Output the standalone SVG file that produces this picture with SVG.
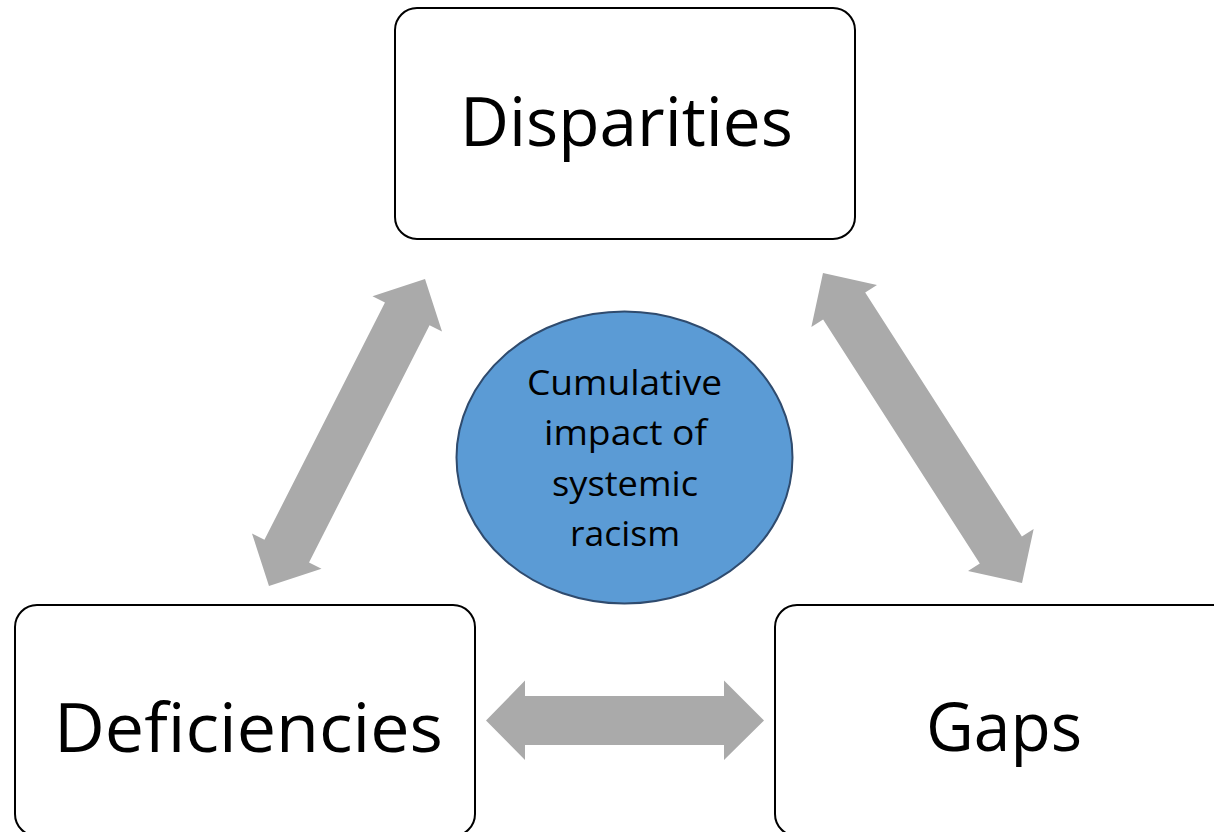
<svg xmlns="http://www.w3.org/2000/svg" width="1214" height="832" viewBox="0 0 1214 832">
<style>
.box{fill:#fff;stroke:#000;stroke-width:2}
.big{font-family:"Open Sans","Liberation Sans",sans-serif;font-size:68px;fill:#000;text-anchor:middle;font-variant-ligatures:none}
.small{font-family:"Open Sans","Liberation Sans",sans-serif;font-size:35px;fill:#000;text-anchor:middle;font-variant-ligatures:none}
.arr{fill:#AAAAAA}
</style>
<rect width="1214" height="832" fill="#fff"/>
<g id="connectors">
<polygon class="arr" transform="translate(347,432.5) rotate(-63.06)" points="-172.2,0 -133,-39 -133,-25 133,-25 133,-39 172.2,0 133,39 133,25 -133,25 -133,39"/>
<polygon class="arr" transform="translate(922.5,428) rotate(57.3)" points="-184.2,0 -145,-39 -145,-25 145,-25 145,-39 184.2,0 145,39 145,25 -145,25 -145,39"/>
<polygon class="arr" points="486,720.5 525,680.5 525,696 724,696 724,680.5 764,720.5 724,760 724,745 525,745 525,760"/>
</g>
<g id="disparities">
<rect class="box" x="395" y="8" width="460" height="231" rx="22"/>
<text class="big" x="626.5" y="146" textLength="333" lengthAdjust="spacingAndGlyphs">Disparities</text>
</g>
<g id="deficiencies">
<rect class="box" x="15" y="605" width="460" height="231" rx="22"/>
<text class="big" x="248.5" y="752" textLength="389" lengthAdjust="spacingAndGlyphs">Deficiencies</text>
</g>
<g id="gaps">
<rect class="box" x="775" y="605" width="460" height="231" rx="22"/>
<text class="big" x="1004" y="751" textLength="156" lengthAdjust="spacingAndGlyphs">Gaps</text>
</g>
<g id="center">
<ellipse cx="624.5" cy="457.5" rx="168" ry="146" fill="#5B9BD5" stroke="#2F4B6E" stroke-width="2"/>
<text class="small" x="624.5" y="395" textLength="195" lengthAdjust="spacingAndGlyphs">Cumulative</text>
<text class="small" x="625.5" y="445" textLength="163" lengthAdjust="spacingAndGlyphs">impact of</text>
<text class="small" x="625" y="496" textLength="146" lengthAdjust="spacingAndGlyphs">systemic</text>
<text class="small" x="625" y="546" textLength="110" lengthAdjust="spacingAndGlyphs">racism</text>
</g>
</svg>
